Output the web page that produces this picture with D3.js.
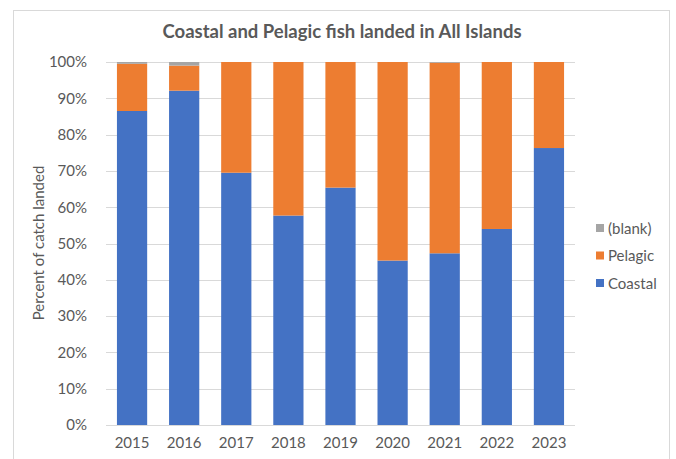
<!DOCTYPE html>
<html>
<head>
<meta charset="utf-8">
<script src="https://cdn.jsdelivr.net/npm/d3@7"></script>
<style>
  body { margin: 0; background: #fff; }
  text { font-family: Lato, "Open Sans", sans-serif; fill: #595959; }
</style>
</head>
<body>
<div id="chart"></div>
<script>
// data (percent of catch landed)
var years   = ['2015','2016','2017','2018','2019','2020','2021','2022','2023'];
var coastal = [86.5, 92.1, 69.5, 57.7, 65.4, 45.3, 47.3, 54.0, 76.3];
var pelagic = [13.0, 6.9, 30.5, 42.3, 34.6, 54.7, 52.5, 46.0, 23.7];
var blank   = [0.5, 1.0, 0, 0, 0, 0, 0.2, 0, 0];
var seriesNames = ['Coastal', 'Pelagic', '(blank)'];
var yTicks = [0, 10, 20, 30, 40, 50, 60, 70, 80, 90, 100];

var app = {};
app.w = 676;
app.h = 459;
app.colors = { 'Coastal': '#4472c4', 'Pelagic': '#ed7d31', '(blank)': '#a5a5a5' };
app.plot = { left: 106, right: 575, top: 62, bottom: 425 };

app.init = function(){
  var svg = d3.select('#chart').append('svg')
    .attr('width', app.w)
    .attr('height', app.h);

  // chart frame
  svg.append('rect')
    .attr('x', 13.5).attr('y', 10.5)
    .attr('width', 656).attr('height', 470)
    .style('fill', 'none')
    .style('stroke', '#d9d9d9');

  svg.append('text')
    .attr('x', 342).attr('y', 37.5)
    .attr('text-anchor', 'middle')
    .style('font-size', '18.5px')
    .style('font-weight', 'bold')
    .text('Coastal and Pelagic fish landed in All Islands');

  var x = d3.scaleBand()
    .domain(years)
    .range([app.plot.left, app.plot.right])
    .paddingInner(0.42)
    .paddingOuter(0.21);

  var y = d3.scaleLinear()
    .domain([0, 100])
    .range([app.plot.bottom, app.plot.top]);

  // gridlines
  svg.append('g').selectAll('line')
    .data(yTicks)
    .enter().append('line')
    .attr('x1', app.plot.left).attr('x2', app.plot.right)
    .attr('y1', function(d){ return Math.round(y(d)) + 0.5; })
    .attr('y2', function(d){ return Math.round(y(d)) + 0.5; })
    .style('stroke', '#d9d9d9');

  // stacked bars
  var rows = years.map(function(yr, i){
    return { year: yr, 'Coastal': coastal[i], 'Pelagic': pelagic[i], '(blank)': blank[i] };
  });
  var stack = d3.stack().keys(seriesNames)(rows);

  svg.append('g').selectAll('g')
    .data(stack)
    .enter().append('g')
    .style('fill', function(d){ return app.colors[d.key]; })
    .selectAll('rect')
    .data(function(d){ return d; })
    .enter().append('rect')
    .attr('x', function(d){ return x(d.data.year); })
    .attr('width', x.bandwidth())
    .attr('y', function(d){ return y(d[1]); })
    .attr('height', function(d){ return y(d[0]) - y(d[1]); });

  // y axis
  var yAxis = svg.append('g')
    .attr('transform', 'translate(' + (app.plot.left - 16) + ',0)')
    .call(d3.axisLeft(y).tickValues(yTicks).tickSize(0).tickFormat(function(d){ return d + '%'; }));
  yAxis.select('.domain').remove();
  yAxis.selectAll('text')
    .style('font-size', '15px')
    .style('fill', '#595959')
    .style('font-family', 'Lato, sans-serif');

  // x axis
  var xAxis = svg.append('g')
    .attr('transform', 'translate(0,' + app.plot.bottom + ')')
    .call(d3.axisBottom(x).tickSize(0).tickPadding(12));
  xAxis.select('.domain')
    .style('stroke', '#d9d9d9')
    .attr('d', 'M' + app.plot.left + ',0.5H' + app.plot.right);
  xAxis.selectAll('text')
    .style('font-size', '15px')
    .style('fill', '#595959')
    .style('font-family', 'Lato, sans-serif');

  svg.append('text')
    .attr('transform', 'translate(44,243) rotate(-90)')
    .attr('text-anchor', 'middle')
    .style('font-size', '15px')
    .text('Percent of catch landed');

  // legend, top to bottom: (blank), Pelagic, Coastal
  var legendItems = seriesNames.slice().reverse();
  var lg = svg.append('g').selectAll('g')
    .data(legendItems)
    .enter().append('g')
    .attr('transform', function(d, i){ return 'translate(596,' + (228 + i*27.5) + ')'; });
  lg.append('rect')
    .attr('x', 0).attr('y', -4)
    .attr('width', 8).attr('height', 8)
    .style('fill', function(d){ return app.colors[d]; });
  lg.append('text')
    .attr('x', 12).attr('y', 5.5)
    .style('font-size', '15px')
    .text(function(d){ return d; });
};

if (document.addEventListener) {
  document.addEventListener('DOMContentLoaded', app.init, false);
};
</script>
</body>
</html>
